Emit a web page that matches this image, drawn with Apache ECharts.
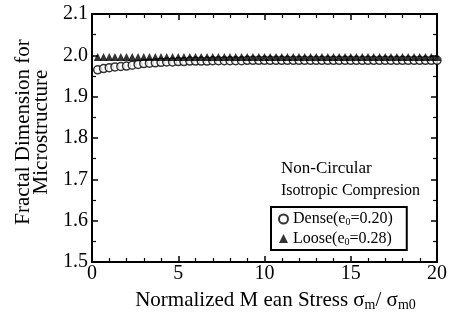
<!DOCTYPE html>
<html>
<head>
<meta charset="utf-8">
<script src="https://cdn.jsdelivr.net/npm/echarts@6/dist/echarts.min.js"></script>
<style>
  html, body { margin: 0; padding: 0; background: #fff; }
  #chart { width: 451px; height: 317px; }
</style>
</head>
<body>
<div id="chart"></div>
<script>
// 数据
const stressX = [
  0.33, 0.67, 1.0, 1.33, 1.67, 2.0, 2.33, 2.67, 3.0, 3.33,
  3.67, 4.0, 4.33, 4.67, 5.0, 5.33, 5.67, 6.0, 6.33, 6.67,
  7.0, 7.33, 7.67, 8.0, 8.33, 8.67, 9.0, 9.33, 9.67, 10.0,
  10.33, 10.67, 11.0, 11.33, 11.67, 12.0, 12.33, 12.67, 13.0, 13.33,
  13.67, 14.0, 14.33, 14.67, 15.0, 15.33, 15.67, 16.0, 16.33, 16.67,
  17.0, 17.33, 17.67, 18.0, 18.33, 18.67, 19.0, 19.33, 19.67, 20.0
];
const denseY = [
  1.965, 1.968, 1.970, 1.972, 1.973, 1.974, 1.976, 1.978, 1.980, 1.981,
  1.982, 1.983, 1.984, 1.984, 1.985, 1.985, 1.986, 1.986, 1.986, 1.986,
  1.987, 1.987, 1.987, 1.987, 1.987, 1.987, 1.988, 1.988, 1.988, 1.988,
  1.988, 1.988, 1.988, 1.988, 1.988, 1.988, 1.988, 1.988, 1.988, 1.988,
  1.988, 1.988, 1.988, 1.988, 1.988, 1.988, 1.988, 1.988, 1.988, 1.988,
  1.988, 1.988, 1.988, 1.988, 1.988, 1.988, 1.988, 1.988, 1.988, 1.988
];
const looseY = [
  1.996, 1.996, 1.996, 1.996, 1.996, 1.996, 1.996, 1.996, 1.996, 1.996,
  1.996, 1.996, 1.996, 1.996, 1.996, 1.996, 1.996, 1.996, 1.996, 1.996,
  1.996, 1.996, 1.996, 1.996, 1.996, 1.996, 1.996, 1.996, 1.996, 1.996,
  1.996, 1.996, 1.996, 1.996, 1.996, 1.996, 1.996, 1.996, 1.996, 1.996,
  1.996, 1.996, 1.996, 1.996, 1.996, 1.996, 1.996, 1.996, 1.996, 1.996,
  1.996, 1.996, 1.996, 1.996, 1.996, 1.996, 1.996, 1.996, 1.996, 1.996
];
const xTicks = [0, 5, 10, 15, 20];
const yTicks = [1.5, 1.6, 1.7, 1.8, 1.9, 2.0, 2.1];

const FONT = 'Liberation Serif';

const pairs = (xs, ys) => xs.map((x, i) => [x, ys[i]]);

// 每个坐标轴单独生成刻度样式
function ticks(minorSplit) {
  return {
    axisLine: { show: true, onZero: false, lineStyle: { color: '#000', width: 2 } },
    axisTick: { show: true, inside: true, length: 6, lineStyle: { color: '#000', width: 1.5 } },
    minorTick: { show: true, splitNumber: minorSplit, length: 4, lineStyle: { color: '#000', width: 1.2 } },
    splitLine: { show: false },
    minorSplitLine: { show: false }
  };
}

const chart = echarts.init(document.getElementById('chart'));

chart.setOption({
  animation: false,
  grid: { left: 92, right: 14, top: 14, bottom: 49 },
  xAxis: [
    Object.assign({
      type: 'value', min: xTicks[0], max: xTicks[xTicks.length - 1], interval: 5,
      position: 'bottom',
      axisLabel: { color: '#000', fontFamily: FONT, fontSize: 20, margin: 2 },
      name: '{t|Normalized M ean Stress σ}{s|m}{t|/ σ}{s|m0}',
      nameLocation: 'middle', nameGap: 27,
      nameTextStyle: {
        padding: [0, 0, 0, 22],
        rich: {
          t: { fontFamily: FONT, fontSize: 21, color: '#000' },
          s: { fontFamily: FONT, fontSize: 14, color: '#000', verticalAlign: 'bottom', padding: [9, 0, 0, 0] }
        }
      }
    }, ticks(5)),
    Object.assign({
      type: 'value', min: xTicks[0], max: xTicks[xTicks.length - 1], interval: 5,
      position: 'top', axisLabel: { show: false }
    }, ticks(5))
  ],
  yAxis: [
    Object.assign({
      type: 'value', min: yTicks[0], max: yTicks[yTicks.length - 1], interval: 0.1,
      position: 'left',
      axisLabel: {
        color: '#000', fontFamily: FONT, fontSize: 20, margin: 4,
        formatter: v => v.toFixed(1)
      },
      name: 'Fractal Dimension for\nMicrostructure',
      nameLocation: 'middle', nameGap: 34,
      nameTextStyle: { color: '#000', fontFamily: FONT, fontSize: 21, lineHeight: 18, padding: [0, 0, 0, 12] }
    }, ticks(2)),
    Object.assign({
      type: 'value', min: yTicks[0], max: yTicks[yTicks.length - 1], interval: 0.1,
      position: 'right', axisLabel: { show: false }
    }, ticks(2))
  ],
  legend: {
    orient: 'vertical',
    left: 271, top: 207,
    padding: [4, 14, 3, 7],
    itemGap: 3,
    itemWidth: 9, itemHeight: 9,
    borderColor: '#000', borderWidth: 2,
    backgroundColor: '#fff',
    data: ['Dense', 'Loose'],
    formatter: name => name === 'Dense'
      ? '{t|Dense(e}{s|0}{t|=0.20)}'
      : '{t|Loose(e}{s|0}{t|=0.28)}',
    textStyle: {
      rich: {
        t: { fontFamily: FONT, fontSize: 16, color: '#000' },
        s: { fontFamily: FONT, fontSize: 10, color: '#000', verticalAlign: 'bottom', padding: [7, 0, 0, 0] }
      }
    }
  },
  graphic: [
    {
      type: 'text', left: 281, top: 160,
      style: { text: 'Non-Circular', fontFamily: FONT, fontSize: 17, fill: '#000' }
    },
    {
      type: 'text', left: 281, top: 183,
      style: { text: 'Isotropic Compresion', fontFamily: FONT, fontSize: 16, fill: '#000' }
    }
  ],
  series: [
    {
      name: 'Loose', type: 'scatter', symbol: 'triangle', symbolSize: 8,
      itemStyle: { color: '#000' },
      data: pairs(stressX, looseY), z: 3
    },
    {
      name: 'Dense', type: 'scatter', symbol: 'circle', symbolSize: 8,
      itemStyle: { color: '#fff', borderColor: '#000', borderWidth: 1.5 },
      data: pairs(stressX, denseY), z: 2
    }
  ]
});
</script>
</body>
</html>
